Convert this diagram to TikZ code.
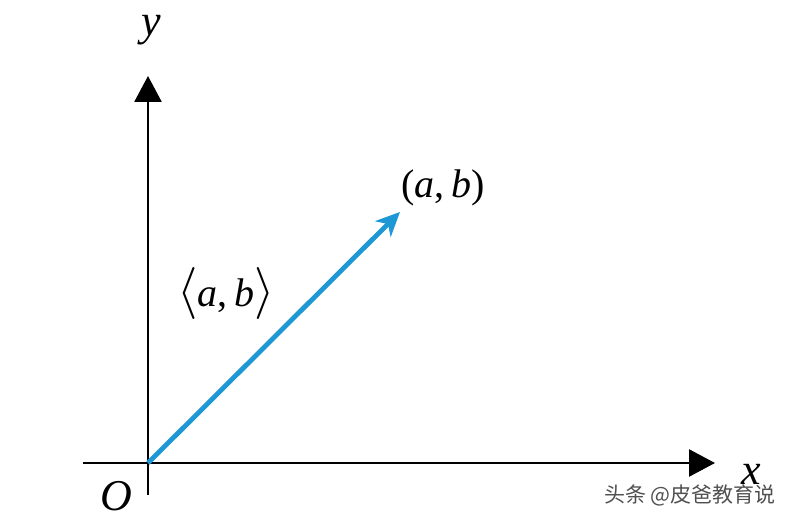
\documentclass[tikz,border=0pt]{standalone}
\usepackage{fontspec}
\setmainfont{Liberation Serif}
\newfontfamily\cjk{Noto Sans CJK SC}
\newfontfamily\lmmath{Latin Modern Math}
\usetikzlibrary{arrows.meta}
\definecolor{vecblue}{RGB}{30,152,212}
\definecolor{wmgray}{RGB}{80,80,80}
\newcommand{\tallbr}[1]{{\fontsize{52}{52}\selectfont\lmmath #1}}
\tikzset{
  axisline/.style={line width=2.6pt, black, -{Triangle[length=26pt,width=27pt]}},
  vecline/.style={line width=4.8pt, vecblue, -{Stealth[length=24pt,width=22pt,inset=7pt]}},
  lbl/.style={inner sep=0pt, font=\fontsize{40}{40}\selectfont},
  axlbl/.style={inner sep=0pt, font=\fontsize{44}{44}\selectfont\itshape},
  wm/.style={inner sep=0pt, text=wmgray, font=\fontsize{21}{21}\selectfont\cjk}
}
\begin{document}
\begin{tikzpicture}[x=1pt,y=1pt]
\useasboundingbox (0,0) rectangle (788,520);
\coordinate (O) at (148,57);
\coordinate (ybot) at (148,25);
\coordinate (ytop) at (148,444);
\coordinate (xleft) at (83,57);
\coordinate (xright) at (715,57);
\coordinate (P) at (400,308);
\draw[axisline] (ybot) -- (ytop);
\draw[axisline] (xleft) -- (xright);
\draw[vecline] (O) -- (P);
\node[axlbl] (ylab) at (151,490) {y};
\node[axlbl] (xlab) at (751,46) {x};
\node[axlbl] (olab) at (116,24) {O};
\node[lbl] (pt) at (443,332) {(\textit{a},\hspace{7pt}\textit{b})};
\node[lbl] (vec) at (226,226) {\tallbr{⟨}\textit{a},\hspace{7pt}\textit{b}\tallbr{⟩}};
\node[wm] (wmark) at (690,25) {头条 @皮爸教育说};
\end{tikzpicture}
\end{document}
